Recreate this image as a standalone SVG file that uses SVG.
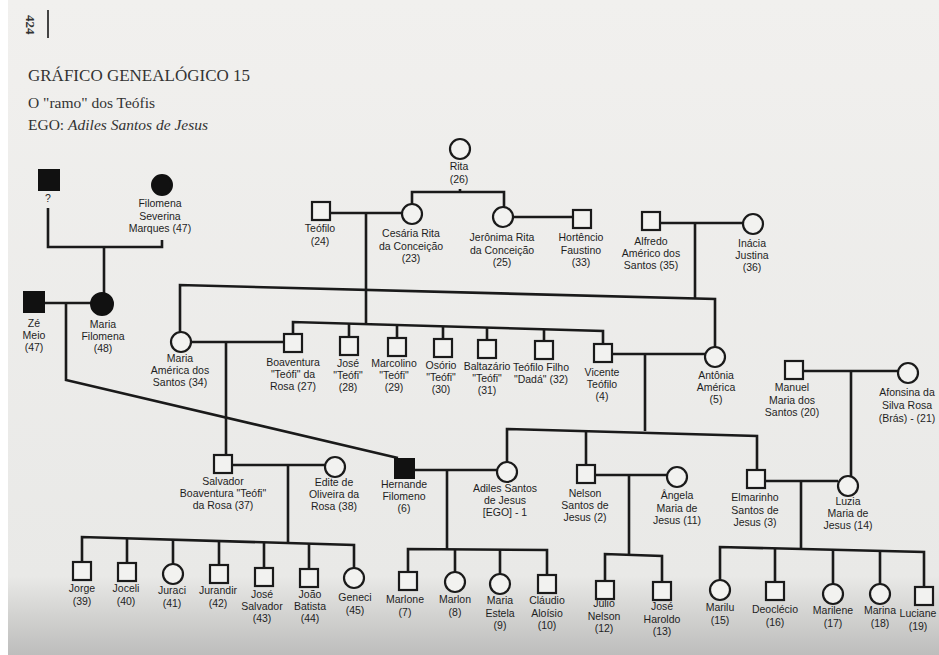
<svg xmlns="http://www.w3.org/2000/svg" width="939" height="655" viewBox="0 0 939 655">
<defs>
<linearGradient id="bg" x1="0" y1="0" x2="0" y2="1">
<stop offset="0" stop-color="#f1f0ee"/>
<stop offset="0.88" stop-color="#e9e9e7"/>
<stop offset="0.94" stop-color="#d2d2d0"/>
<stop offset="1" stop-color="#bdbdbc"/>
</linearGradient>
<style>
.ln{stroke:#1a1a1a;stroke-width:2.6;fill:none;stroke-linejoin:miter}
.sq{fill:#f2f2f0;stroke:#1a1a1a;stroke-width:2.2}
.ci{fill:#f2f2f0;stroke:#1a1a1a;stroke-width:2.2}
.fd{fill:#111;stroke:#111;stroke-width:2}
.lb{font-family:"Liberation Sans",Arial,sans-serif;font-size:10.5px;fill:#1e1e1e;text-anchor:middle}
.hd{font-family:"Liberation Serif","Times New Roman",serif;fill:#333}
</style>
</defs>
<rect x="0" y="0" width="939" height="655" fill="#ffffff"/>
<rect x="8" y="0" width="931" height="655" fill="url(#bg)"/>

<g id="header">
<text class="hd" transform="translate(26,15) rotate(90)" font-size="13" font-weight="bold">424</text>
<line x1="48" y1="10" x2="48" y2="38" stroke="#444" stroke-width="2"/>
<text class="hd" x="28" y="81" font-size="17" textLength="222">GRÁFICO GENEALÓGICO 15</text>
<text class="hd" x="28" y="108" font-size="15.5">O "ramo" dos Teófis</text>
<text class="hd" x="28" y="130" font-size="15.5">EGO: <tspan font-style="italic">Adiles Santos de Jesus</tspan></text>
</g>

<g id="connectors">
<path class="ln" d="M48,208 V247 H162 V240"/>
<path class="ln" d="M104,247 V293"/>
<path class="ln" d="M44,303 H91"/>
<path class="ln" d="M66,303 V380 L398,458"/>
<path class="ln" d="M412,204 V192 H504 V207"/>
<path class="ln" d="M460,189 V192"/>
<path class="ln" d="M330,213 H402"/>
<path class="ln" d="M366,213 V323"/>
<path class="ln" d="M513,217 H572"/>
<path class="ln" d="M660,223 H743"/>
<path class="ln" d="M695,223 V298"/>
<path class="ln" d="M180,332 V285 L715,299 V347"/>
<path class="ln" d="M293,334 V322 L603,331 V344"/>
<path class="ln" d="M349,323.6 V337 M397,325 V338 M443,326.4 V339 M487,327.6 V340 M544,329.3 V341"/>
<path class="ln" d="M191,342 H284"/>
<path class="ln" d="M226,342 V455"/>
<path class="ln" d="M232,465 H325"/>
<path class="ln" d="M288,465 V543"/>
<path class="ln" d="M82,562 V537 L354,545 V568"/>
<path class="ln" d="M127,538.3 V563 M173,539.6 V564 M219,540.9 V565 M264,542.3 V568 M309,543.6 V569"/>
<path class="ln" d="M612,354 H705"/>
<path class="ln" d="M645,354 V431"/>
<path class="ln" d="M507,462 V429 L757,436 V470"/>
<path class="ln" d="M586,431.2 V465"/>
<path class="ln" d="M414,470 H497"/>
<path class="ln" d="M447,470 V549"/>
<path class="ln" d="M408,572 V549 L547,550 V575"/>
<path class="ln" d="M455,549.3 V572 M500,549.7 V574"/>
<path class="ln" d="M595,475 H667"/>
<path class="ln" d="M629,475 V554"/>
<path class="ln" d="M605,581 V554 L662,556 V582"/>
<path class="ln" d="M765,481 H838"/>
<path class="ln" d="M801,481 V548"/>
<path class="ln" d="M803,371 H898"/>
<path class="ln" d="M851,371 V476"/>
<path class="ln" d="M720,580 V547 L924,552 V587"/>
<path class="ln" d="M775,548.3 V582 M833,549.8 V584 M880,550.9 V584"/>
</g>

<g id="n-unknown"><rect class="fd" x="39" y="170" width="20" height="20"/><text class="lb" x="48" y="202">?</text></g>
<g id="n-filomena-severina"><circle class="fd" cx="162" cy="185" r="10"/><text class="lb"><tspan x="160" y="207">Filomena</tspan><tspan x="160" dy="12.5">Severina</tspan><tspan x="160" dy="12.5">Marques (47)</tspan></text></g>
<g id="n-ze-meio"><rect class="fd" x="24" y="292" width="20" height="20"/><text class="lb"><tspan x="34" y="327">Zé</tspan><tspan x="34" dy="12">Meio</tspan><tspan x="34" dy="12">(47)</tspan></text></g>
<g id="n-maria-filomena"><circle class="fd" cx="102" cy="304" r="11"/><text class="lb"><tspan x="103" y="328">Maria</tspan><tspan x="103" dy="12">Filomena</tspan><tspan x="103" dy="12">(48)</tspan></text></g>

<g id="n-rita"><circle class="ci" cx="460" cy="149" r="10"/><text class="lb"><tspan x="459" y="170">Rita</tspan><tspan x="459" dy="13">(26)</tspan></text></g>
<g id="n-teofilo"><rect class="sq" x="312" y="202" width="18" height="18"/><text class="lb"><tspan x="320" y="232">Teófilo</tspan><tspan x="320" dy="13">(24)</tspan></text></g>
<g id="n-cesaria"><circle class="ci" cx="412" cy="214" r="10"/><text class="lb"><tspan x="411" y="237">Cesária Rita</tspan><tspan x="411" dy="12.5">da Conceição</tspan><tspan x="411" dy="12.5">(23)</tspan></text></g>
<g id="n-jeronima"><circle class="ci" cx="503" cy="217" r="10"/><text class="lb"><tspan x="502" y="241">Jerônima Rita</tspan><tspan x="502" dy="12.5">da Conceição</tspan><tspan x="502" dy="12.5">(25)</tspan></text></g>
<g id="n-hortencio"><rect class="sq" x="573" y="210" width="18" height="18"/><text class="lb"><tspan x="581" y="241">Hortêncio</tspan><tspan x="581" dy="12.5">Faustino</tspan><tspan x="581" dy="12.5">(33)</tspan></text></g>
<g id="n-alfredo"><rect class="sq" x="642" y="212" width="18" height="18"/><text class="lb"><tspan x="651" y="245">Alfredo</tspan><tspan x="651" dy="12">Américo dos</tspan><tspan x="651" dy="12">Santos (35)</tspan></text></g>
<g id="n-inacia"><circle class="ci" cx="753" cy="224" r="10"/><text class="lb"><tspan x="752" y="247">Inácia</tspan><tspan x="752" dy="12">Justina</tspan><tspan x="752" dy="12">(36)</tspan></text></g>

<g id="n-maria-america"><circle class="ci" cx="181" cy="342" r="10"/><text class="lb"><tspan x="180" y="362">Maria</tspan><tspan x="180" dy="12">América dos</tspan><tspan x="180" dy="12">Santos (34)</tspan></text></g>
<g id="n-boaventura"><rect class="sq" x="284" y="334" width="18" height="18"/><text class="lb"><tspan x="293" y="366">Boaventura</tspan><tspan x="293" dy="12">"Teófi" da</tspan><tspan x="293" dy="12">Rosa (27)</tspan></text></g>
<g id="n-jose-teofi"><rect class="sq" x="340" y="337" width="18" height="18"/><text class="lb"><tspan x="348" y="367">José</tspan><tspan x="348" dy="12">"Teófi"</tspan><tspan x="348" dy="12">(28)</tspan></text></g>
<g id="n-marcolino"><rect class="sq" x="388" y="338" width="18" height="18"/><text class="lb"><tspan x="394" y="367">Marcolino</tspan><tspan x="394" dy="12">"Teófi"</tspan><tspan x="394" dy="12">(29)</tspan></text></g>
<g id="n-osorio"><rect class="sq" x="434" y="339" width="18" height="18"/><text class="lb"><tspan x="441" y="369">Osório</tspan><tspan x="441" dy="12">"Teófi"</tspan><tspan x="441" dy="12">(30)</tspan></text></g>
<g id="n-baltazario"><rect class="sq" x="478" y="340" width="18" height="18"/><text class="lb"><tspan x="487" y="370">Baltazário</tspan><tspan x="487" dy="12">"Teófi"</tspan><tspan x="487" dy="12">(31)</tspan></text></g>
<g id="n-teofilo-filho"><rect class="sq" x="535" y="341" width="18" height="18"/><text class="lb"><tspan x="541" y="371">Teófilo Filho</tspan><tspan x="541" dy="12">"Dadá" (32)</tspan></text></g>
<g id="n-vicente"><rect class="sq" x="594" y="344" width="18" height="18"/><text class="lb"><tspan x="602" y="376">Vicente</tspan><tspan x="602" dy="12">Teófilo</tspan><tspan x="602" dy="12">(4)</tspan></text></g>
<g id="n-antonia"><circle class="ci" cx="715" cy="357" r="10"/><text class="lb"><tspan x="716" y="379">Antônia</tspan><tspan x="716" dy="12">América</tspan><tspan x="716" dy="12">(5)</tspan></text></g>
<g id="n-manuel"><rect class="sq" x="785" y="361" width="18" height="18"/><text class="lb"><tspan x="792" y="391">Manuel</tspan><tspan x="792" dy="12.5">Maria dos</tspan><tspan x="792" dy="12.5">Santos (20)</tspan></text></g>
<g id="n-afonsina"><circle class="ci" cx="908" cy="373" r="10"/><text class="lb"><tspan x="907" y="396">Afonsina da</tspan><tspan x="907" dy="13">Silva Rosa</tspan><tspan x="907" dy="13">(Brás) - (21)</tspan></text></g>

<g id="n-salvador"><rect class="sq" x="214" y="455" width="18" height="18"/><text class="lb"><tspan x="223" y="485">Salvador</tspan><tspan x="223" dy="12">Boaventura "Teófi"</tspan><tspan x="223" dy="12">da Rosa (37)</tspan></text></g>
<g id="n-edite"><circle class="ci" cx="335" cy="467" r="10"/><text class="lb"><tspan x="334" y="486">Edite de</tspan><tspan x="334" dy="12">Oliveira da</tspan><tspan x="334" dy="12">Rosa (38)</tspan></text></g>
<g id="n-hernande"><rect class="fd" x="395" y="459" width="19" height="19"/><text class="lb"><tspan x="404" y="488">Hernande</tspan><tspan x="404" dy="12">Filomeno</tspan><tspan x="404" dy="12">(6)</tspan></text></g>
<g id="n-adiles"><circle class="ci" cx="507" cy="472" r="10"/><text class="lb"><tspan x="505" y="492">Adiles Santos</tspan><tspan x="505" dy="12">de Jesus</tspan><tspan x="505" dy="12">[EGO] - 1</tspan></text></g>
<g id="n-nelson"><rect class="sq" x="577" y="465" width="18" height="18"/><text class="lb"><tspan x="585" y="497">Nelson</tspan><tspan x="585" dy="12">Santos de</tspan><tspan x="585" dy="12">Jesus (2)</tspan></text></g>
<g id="n-angela"><circle class="ci" cx="677" cy="477" r="10"/><text class="lb"><tspan x="677" y="499">Ângela</tspan><tspan x="677" dy="12.5">Maria de</tspan><tspan x="677" dy="12.5">Jesus (11)</tspan></text></g>
<g id="n-elmarinho"><rect class="sq" x="747" y="470" width="18" height="18"/><text class="lb"><tspan x="755" y="501">Elmarinho</tspan><tspan x="755" dy="12.5">Santos de</tspan><tspan x="755" dy="12.5">Jesus (3)</tspan></text></g>
<g id="n-luzia"><circle class="ci" cx="848" cy="486" r="10"/><text class="lb"><tspan x="848" y="505">Luzia</tspan><tspan x="848" dy="12">Maria de</tspan><tspan x="848" dy="12">Jesus (14)</tspan></text></g>

<g id="n-jorge"><rect class="sq" x="73" y="562" width="18" height="18"/><text class="lb"><tspan x="82" y="592">Jorge</tspan><tspan x="82" dy="12.5">(39)</tspan></text></g>
<g id="n-joceli"><rect class="sq" x="118" y="563" width="18" height="18"/><text class="lb"><tspan x="126" y="592">Joceli</tspan><tspan x="126" dy="12.5">(40)</tspan></text></g>
<g id="n-juraci"><circle class="ci" cx="173" cy="574" r="10"/><text class="lb"><tspan x="172" y="594">Juraci</tspan><tspan x="172" dy="12.5">(41)</tspan></text></g>
<g id="n-jurandir"><rect class="sq" x="210" y="565" width="18" height="18"/><text class="lb"><tspan x="218" y="594">Jurandir</tspan><tspan x="218" dy="12.5">(42)</tspan></text></g>
<g id="n-jose-salvador"><rect class="sq" x="255" y="568" width="18" height="18"/><text class="lb"><tspan x="262" y="598">José</tspan><tspan x="262" dy="12">Salvador</tspan><tspan x="262" dy="12">(43)</tspan></text></g>
<g id="n-joao-batista"><rect class="sq" x="300" y="569" width="18" height="18"/><text class="lb"><tspan x="310" y="598">João</tspan><tspan x="310" dy="12">Batista</tspan><tspan x="310" dy="12">(44)</tspan></text></g>
<g id="n-geneci"><circle class="ci" cx="354" cy="578" r="10"/><text class="lb"><tspan x="355" y="601">Geneci</tspan><tspan x="355" dy="12.5">(45)</tspan></text></g>

<g id="n-marlone"><rect class="sq" x="399" y="572" width="18" height="18"/><text class="lb"><tspan x="405" y="603">Marlone</tspan><tspan x="405" dy="12.5">(7)</tspan></text></g>
<g id="n-marlon"><circle class="ci" cx="455" cy="582" r="10"/><text class="lb"><tspan x="455" y="603">Marlon</tspan><tspan x="455" dy="12.5">(8)</tspan></text></g>
<g id="n-maria-estela"><circle class="ci" cx="500" cy="584" r="10"/><text class="lb"><tspan x="500" y="604">Maria</tspan><tspan x="500" dy="12.5">Estela</tspan><tspan x="500" dy="12.5">(9)</tspan></text></g>
<g id="n-claudio"><rect class="sq" x="538" y="575" width="18" height="18"/><text class="lb"><tspan x="547" y="604">Cláudio</tspan><tspan x="547" dy="12.5">Aloísio</tspan><tspan x="547" dy="12.5">(10)</tspan></text></g>
<g id="n-julio"><rect class="sq" x="596" y="581" width="18" height="18"/><text class="lb"><tspan x="604" y="607">Júlio</tspan><tspan x="604" dy="12.5">Nelson</tspan><tspan x="604" dy="12.5">(12)</tspan></text></g>
<g id="n-jose-haroldo"><rect class="sq" x="653" y="582" width="18" height="18"/><text class="lb"><tspan x="662" y="610">José</tspan><tspan x="662" dy="12.5">Haroldo</tspan><tspan x="662" dy="12.5">(13)</tspan></text></g>
<g id="n-marilu"><circle class="ci" cx="720" cy="590" r="10"/><text class="lb"><tspan x="720" y="611">Marilu</tspan><tspan x="720" dy="12.5">(15)</tspan></text></g>
<g id="n-deoclecio"><rect class="sq" x="766" y="582" width="18" height="18"/><text class="lb"><tspan x="775" y="613">Deoclécio</tspan><tspan x="775" dy="12.5">(16)</tspan></text></g>
<g id="n-marilene"><circle class="ci" cx="833" cy="594" r="10"/><text class="lb"><tspan x="833" y="614">Marilene</tspan><tspan x="833" dy="12.5">(17)</tspan></text></g>
<g id="n-marina"><circle class="ci" cx="880" cy="594" r="10"/><text class="lb"><tspan x="880" y="614">Marina</tspan><tspan x="880" dy="12.5">(18)</tspan></text></g>
<g id="n-luciane"><rect class="sq" x="915" y="587" width="18" height="18"/><text class="lb"><tspan x="918" y="617">Luciane</tspan><tspan x="918" dy="12.5">(19)</tspan></text></g>
</svg>
